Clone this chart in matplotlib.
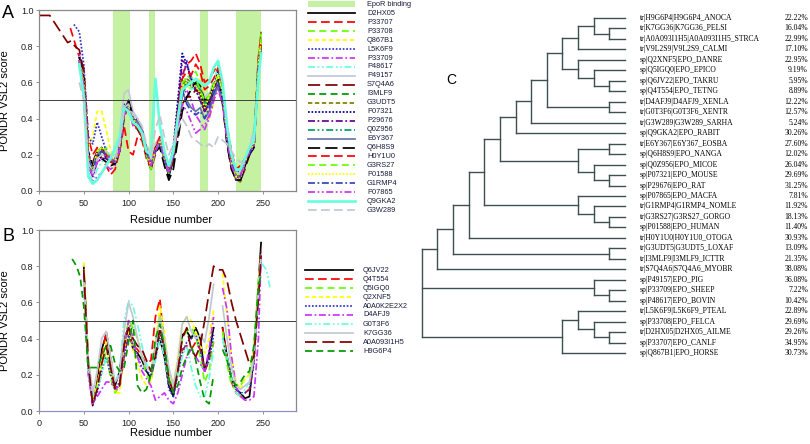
import numpy as np
import matplotlib.pyplot as plt
from matplotlib.lines import Line2D
from matplotlib.patches import Rectangle

plt.rcParams['font.family'] = ['Liberation Sans', 'DejaVu Sans']

# -----------------------------
# Disorder profiles (PONDR VSL2, values x100)
# -----------------------------
res_a = list(range(45, 246, 5)) + [248]
res_b = list(range(50, 246, 5)) + [248]

names_a = ['D2HX05', 'P33707', 'P33708', 'Q867B1', 'L5K6F9', 'P33709', 'P48617',
           'P49157', 'S7Q4A6', 'I3MLF9', 'G3UDT5', 'P07321', 'P29676', 'Q0Z956',
           'E6Y367', 'Q6H8S9', 'H0Y1U0', 'G3RS27', 'P01588', 'G1RMP4', 'P07865',
           'Q9GKA2', 'G3W289']

vsl2_a = [
    [72, 62, 20, 12, 22, 24, 18, 16, 15, 22, 42, 50, 40, 36, 34, 22, 14, 22, 28, 18,
     8, 18, 38, 55, 60, 58, 56, 54, 46, 50, 58, 62, 52, 32, 16, 8, 7, 15, 22, 26, 70, 82],
    [74, 68, 30, 20, 24, 18, 14, 9, 12, 22, 36, 22, 20, 30, 28, 18, 12, 20, 26, 20,
     12, 22, 45, 64, 70, 72, 76, 70, 60, 62, 66, 70, 58, 36, 22, 12, 14, 18, 22, 28, 74, 86],
    [70, 58, 18, 10, 20, 22, 24, 18, 16, 26, 44, 46, 36, 34, 30, 20, 13, 24, 27, 17,
     10, 22, 40, 58, 64, 62, 66, 60, 50, 54, 60, 64, 52, 30, 16, 10, 9, 16, 22, 26, 72, 88],
    [68, 56, 25, 30, 44, 44, 34, 22, 18, 28, 46, 44, 38, 36, 30, 20, 14, 22, 30, 22,
     12, 20, 38, 56, 58, 56, 60, 62, 52, 40, 48, 62, 50, 32, 18, 10, 8, 16, 20, 26, 68, 78],
    [88, 70, 30, 26, 38, 30, 22, 18, 18, 26, 48, 44, 40, 40, 32, 22, 14, 24, 26, 18,
     10, 20, 42, 62, 72, 60, 56, 50, 44, 48, 58, 64, 54, 30, 18, 10, 12, 18, 22, 24, 66, 80],
    [76, 60, 10, 5, 8, 10, 14, 12, 14, 22, 44, 46, 36, 34, 34, 24, 12, 22, 28, 20,
     14, 22, 40, 52, 56, 50, 42, 38, 34, 40, 50, 60, 50, 28, 14, 6, 6, 14, 20, 26, 68, 80],
    [70, 55, 10, 5, 12, 16, 18, 18, 20, 26, 44, 44, 40, 38, 30, 22, 14, 26, 28, 18,
     12, 22, 40, 56, 60, 56, 58, 56, 50, 52, 60, 70, 56, 34, 20, 12, 10, 18, 22, 24, 64, 78],
    [74, 62, 22, 10, 18, 20, 20, 18, 16, 30, 54, 56, 44, 40, 34, 24, 16, 26, 30, 22,
     14, 24, 42, 60, 62, 60, 58, 58, 52, 54, 58, 64, 56, 32, 18, 10, 10, 16, 24, 34, 60, 84],
    [78, 66, 20, 16, 22, 24, 20, 18, 16, 22, 40, 48, 40, 34, 30, 22, 14, 24, 28, 18,
     10, 16, 30, 48, 52, 52, 56, 54, 44, 48, 54, 58, 48, 26, 12, 7, 6, 12, 20, 24, 66, 80],
    [72, 58, 16, 12, 20, 22, 22, 18, 16, 24, 44, 48, 38, 36, 32, 20, 12, 22, 26, 18,
     10, 20, 38, 54, 58, 60, 62, 58, 48, 50, 58, 64, 54, 32, 16, 8, 8, 16, 20, 26, 70, 84],
    [70, 58, 18, 10, 20, 22, 20, 16, 16, 24, 42, 46, 38, 36, 32, 22, 14, 22, 26, 18,
     10, 22, 40, 58, 62, 60, 58, 56, 48, 52, 58, 62, 54, 30, 14, 6, 5, 14, 20, 26, 72, 88],
    [74, 60, 20, 14, 22, 24, 20, 18, 16, 24, 46, 48, 40, 36, 32, 22, 12, 22, 26, 18,
     10, 24, 50, 76, 70, 62, 58, 54, 46, 50, 58, 66, 54, 30, 16, 8, 8, 16, 20, 24, 68, 82],
    [72, 58, 14, 8, 16, 18, 18, 16, 16, 24, 44, 50, 42, 38, 34, 24, 14, 22, 28, 18,
     10, 22, 46, 72, 70, 62, 56, 50, 44, 48, 56, 62, 52, 28, 14, 6, 6, 14, 20, 24, 66, 80],
    [70, 56, 16, 10, 18, 22, 20, 18, 16, 24, 44, 48, 40, 36, 32, 22, 14, 22, 26, 18,
     10, 20, 40, 56, 60, 58, 60, 56, 48, 52, 58, 62, 52, 30, 16, 8, 8, 16, 22, 26, 70, 82],
    [72, 58, 18, 10, 20, 22, 20, 18, 16, 24, 44, 48, 40, 38, 34, 22, 14, 22, 28, 18,
     10, 22, 40, 54, 50, 46, 44, 46, 40, 44, 52, 58, 50, 28, 14, 8, 8, 16, 22, 26, 68, 80],
    [74, 62, 22, 14, 20, 18, 16, 14, 15, 22, 44, 50, 40, 34, 30, 20, 13, 22, 24, 14,
     6, 12, 28, 44, 52, 56, 60, 58, 50, 52, 58, 62, 50, 26, 12, 6, 6, 14, 20, 24, 68, 80],
    [72, 60, 20, 12, 20, 22, 20, 16, 16, 22, 44, 46, 38, 34, 30, 20, 12, 24, 30, 20,
     12, 22, 42, 62, 66, 64, 70, 66, 56, 58, 62, 68, 56, 32, 16, 8, 8, 16, 22, 26, 72, 84],
    [70, 58, 18, 12, 22, 24, 22, 18, 16, 24, 44, 46, 38, 36, 32, 20, 12, 22, 28, 18,
     10, 22, 40, 60, 62, 60, 62, 56, 50, 52, 58, 64, 54, 30, 16, 8, 8, 16, 22, 26, 70, 84],
    [72, 60, 18, 12, 22, 24, 22, 20, 16, 24, 44, 46, 40, 36, 32, 22, 14, 22, 28, 18,
     10, 22, 40, 58, 60, 58, 58, 54, 46, 52, 58, 64, 54, 30, 16, 8, 7, 16, 22, 26, 70, 82],
    [70, 58, 18, 12, 20, 22, 20, 18, 16, 24, 44, 46, 38, 36, 32, 22, 14, 22, 26, 18,
     10, 20, 38, 56, 48, 44, 42, 44, 40, 46, 54, 60, 52, 30, 16, 8, 8, 16, 22, 24, 68, 78],
    [72, 58, 14, 8, 16, 18, 20, 18, 16, 22, 42, 46, 38, 36, 32, 22, 14, 22, 28, 18,
     10, 20, 34, 48, 44, 38, 32, 34, 36, 42, 50, 56, 48, 28, 14, 8, 8, 16, 22, 24, 64, 76],
    [70, 52, 8, 4, 6, 10, 14, 18, 24, 30, 46, 44, 38, 36, 32, 22, 20, 62, 36, 22,
     14, 22, 40, 56, 58, 60, 62, 60, 58, 60, 68, 72, 60, 36, 20, 12, 12, 18, 24, 28, 62, 76],
    [60, 50, 16, 10, 18, 20, 22, 20, 18, 26, 46, 48, 42, 40, 36, 26, 20, 34, 42, 30,
     20, 26, 34, 40, 36, 30, 28, 26, 24, 26, 24, 30, 28, 26, 22, 18, 16, 15, 15, None, None, None],
]

# N-terminal parts that start before residue 45
lead_a = {8: ([0, 12, 20, 28, 32, 36, 40], [97, 97, 91, 85, 82, 83, 80]),
          1: ([35, 40], [90, 82]),
          4: ([39, 42], [92, 90])}

names_b = ['Q6JV22', 'Q4T554', 'Q5IGQ0', 'Q2XNF5', 'A0A0K2E2X2', 'D4AFJ9', 'G0T3F6',
           'K7GG36', 'A0A093I1H5', 'H9G6P4']

vsl2_b = [
    [80, 28, 3, 16, 34, 42, 24, 14, 22, 40, 46, 34, 32, 28, 22, 18, 30, 40, 30, 14,
     8, 22, 42, 44, 40, 46, 40, 22, 32, 46, None, 46, 30, 18, 12, 10, 7, 8, 30, 70, 93],
    [78, 26, 4, 14, 30, 44, 30, 12, 12, 30, 42, 36, 34, 30, 26, 28, 52, 62, 36, 16,
     12, 24, 34, 36, 34, 38, 34, 22, 28, 38, None, 46, 30, 16, 10, 8, 10, 12, 28, 66, 88],
    [76, 24, 6, 14, 26, 32, 18, 10, 14, 36, 50, 46, 40, 30, 20, 16, 36, 54, 40, 22,
     14, 26, 40, 44, 46, 42, 30, 16, 22, 40, None, 44, 26, 14, 12, 14, 18, 20, 34, 70, 84],
    [82, 30, 6, 14, 28, 38, 22, 10, 10, 34, 44, 34, 26, 18, 14, 16, 38, 58, 44, 22,
     14, 30, 48, 52, 50, 44, 36, 32, 40, 56, None, 76, 52, 30, 16, 12, 18, 20, 34, 72, 86],
    [72, 22, 4, 10, 22, 30, 20, 12, 16, 30, 42, 36, 30, 24, 22, 20, 28, 44, 34, 12,
     8, 20, 32, 38, 40, 42, 34, 22, 28, 42, None, 40, 30, 18, 12, 10, 10, 12, 26, 64, 84],
    [76, 20, 4, 8, 12, 16, 16, 12, 14, 34, 50, 40, 30, 22, 18, 14, 6, 8, 10, 6,
     4, 10, 20, 30, 34, 30, 26, 22, 34, 52, None, 68, 56, 30, 14, 8, 6, 6, 8, 40, 85],
    [70, 22, 8, 12, 20, 30, 24, 16, 22, 50, 61, 58, 48, 36, 26, 22, 28, 40, 30, 16,
     12, 20, 30, 36, 24, 14, 8, 8, 18, 34, None, 40, 30, 18, 10, 8, 12, 16, 30, 70, 82],
    [72, 30, 10, 22, 40, 44, 30, 16, 20, 44, 60, 52, 40, 30, 24, 22, 36, 52, 40, 24,
     14, 28, 48, 52, 44, 40, 42, 38, 52, 70, None, 58, 40, 24, 14, 12, 14, 16, 30, 66, 86],
    [78, 26, 4, 12, 26, 36, 24, 12, 14, 36, 46, 40, 36, 34, 28, 22, 30, 46, 34, 18,
     10, 22, 40, 46, 34, 30, 36, 50, 66, 80, 78, 78, 72, 60, 50, 42, 34, 26, 30, 62, 86],
    [58, 24, 24, 24, 30, 36, 36, 26, 22, 24, 38, 50, 14, 10, 12, 20, 40, 48, 36, 18,
     10, 14, 24, 30, 36, 28, 16, 6, 4, 20, None, 34, 28, 18, 14, 16, 20, 22, 36, 68, 76],
]
lead_b = {9: ([37, 42, 46], [84, 80, 74])}
tail_b = {6: ([254, 258], [78, 68])}

# EpoR binding regions (residues)
epor_start = [83, 123, 180, 220]
epor_end = [102, 130, 189, 248]

# -----------------------------
# Line styles (Excel-like)
# -----------------------------
SOLID = '-'
DASH = (0, (5, 2.5))
MDASH = (0, (4, 2.5))
SDASH = (0, (2.5, 1.5))
DOT = (0, (1, 1))
DASHDOT = (0, (4, 1.5, 1, 1.5))
DASHDOTDOT = (0, (4, 1.5, 1, 1.5, 1, 1.5))
LDASH = (0, (7, 3))

colors_a = ['#000000', '#ff0000', '#66ff00', '#ffff00', '#3333cc', '#cc33ff', '#66ffdd',
            '#c0c8dc', '#800000', '#009900', '#808000', '#000099', '#660099', '#00a060',
            '#6677aa', '#000000', '#ff0000', '#66ff00', '#ffff00', '#3344bb', '#cc33ee',
            '#66ffdd', '#c0c8d0']
styles_a = [SOLID, DASH, MDASH, SDASH, DOT, DASHDOT, DASHDOTDOT,
            SOLID, LDASH, MDASH, SDASH, DOT, DASHDOT, DASHDOTDOT,
            SOLID, LDASH, DASH, MDASH, DOT, DASHDOT, DASHDOTDOT,
            SOLID, DASH]
widths_a = [1.25] * 21 + [1.9, 1.25]

colors_b = ['#000000', '#ff0000', '#66ff00', '#ffff00', '#3333cc', '#cc33ff', '#66ffdd',
            '#c0c8d0', '#800000', '#009900']
styles_b = [SOLID, DASH, MDASH, SDASH, DOT, DASHDOT, DASHDOTDOT, SOLID, LDASH, MDASH]

# -----------------------------
# Tree (node depth levels, leaves = row index)
# -----------------------------
leaf_labels = ['tr|H9G6P4|H9G6P4_ANOCA', 'tr|K7GG36|K7GG36_PELSI',
               'tr|A0A093I1H5|A0A093I1H5_STRCA', 'tr|V9L2S9|V9L2S9_CALMI',
               'sp|Q2XNF5|EPO_DANRE', 'sp|Q5IGQ0|EPO_EPICO', 'sp|Q6JV22|EPO_TAKRU',
               'sp|Q4T554|EPO_TETNG', 'tr|D4AFJ9|D4AFJ9_XENLA', 'tr|G0T3F6|G0T3F6_XENTR',
               'tr|G3W289|G3W289_SARHA', 'sp|Q9GKA2|EPO_RABIT', 'tr|E6Y367|E6Y367_EOSBA',
               'sp|Q6H8S9|EPO_NANGA', 'sp|Q0Z956|EPO_MICOE', 'sp|P07321|EPO_MOUSE',
               'sp|P29676|EPO_RAT', 'sp|P07865|EPO_MACFA', 'tr|G1RMP4|G1RMP4_NOMLE',
               'tr|G3RS27|G3RS27_GORGO', 'sp|P01588|EPO_HUMAN', 'tr|H0Y1U0|H0Y1U0_OTOGA',
               'tr|G3UDT5|G3UDT5_LOXAF', 'tr|I3MLF9|I3MLF9_ICTTR', 'tr|S7Q4A6|S7Q4A6_MYOBR',
               'sp|P49157|EPO_PIG', 'sp|P33709|EPO_SHEEP', 'sp|P48617|EPO_BOVIN',
               'tr|L5K6F9|L5K6F9_PTEAL', 'sp|P33708|EPO_FELCA', 'tr|D2HX05|D2HX05_AILME',
               'sp|P33707|EPO_CANLF', 'sp|Q867B1|EPO_HORSE']
leaf_pct = ['22.22%', '16.04%', '22.99%', '17.10%', '22.95%', '9.19%', '5.95%', '8.89%',
            '12.22%', '12.57%', '5.24%', '30.26%', '27.60%', '12.02%', '26.04%', '29.69%',
            '31.25%', '7.81%', '11.92%', '18.13%', '11.40%', '30.93%', '13.09%', '21.35%',
            '38.08%', '36.08%', '7.22%', '10.42%', '22.89%', '29.69%', '29.26%', '34.95%',
            '30.73%']
LEAF_DEPTH = 13

fish_birds = (9, [(10, [(11, [0, (12, [1, 2])]), 3]),
                  (10, [4, (11, [5, (12, [6, 7])])])])
nonmammal = (7, [(8, [fish_birds, (12, [8, 9])]), 10])
rodents = (10, [(12, [12, 13]), (11, [14, (12, [15, 16])])])
primates = (10, [17, (11, [18, (12, [19, 20])])])
clade_d = (4, [(5, [(6, [nonmammal, 11]), rodents]), primates])
clade_a = (1, [(2, [(3, [clade_d, 21]), (12, [22, 23])]), 24])
ruminants = (11, [25, (12, [26, 27])])
carnivores = (9, [(10, [28, (11, [29, (12, [30, 31])])]), 32])
tree = (0, [clade_a, ruminants, carnivores])

# -----------------------------
# Figure
# -----------------------------
W, H = 810, 444
fig = plt.figure(figsize=(W / 100, H / 100), dpi=100)


def fx(px):
    return px / W


def fy(py):
    return 1 - py / H


def profile(vals, res, lead, tail, i):
    x = list(res)
    y = list(vals[i])
    if i in lead:
        x = lead[i][0] + x
        y = lead[i][1] + y
    if i in tail:
        x = x + tail[i][0]
        y = y + tail[i][1]
    return np.array(x, dtype=float), np.array(y, dtype=float) / 100


def setup_axes(ax):
    ax.set_xlim(0, 287)
    ax.set_ylim(0, 1)
    ax.set_xticks([0, 50, 100, 150, 200, 250])
    ax.set_yticks([0.0, 0.2, 0.4, 0.6, 0.8, 1.0])
    ax.set_yticklabels(['0.0', '0.2', '0.4', '0.6', '0.8', '1.0'])
    ax.tick_params(labelsize=6.5, length=2, width=0.6, color='#808080',
                   labelcolor='#202020', pad=2)
    ax.tick_params(axis='x', pad=4)
    for s in ax.spines.values():
        s.set_color('#8a8a8a')
        s.set_linewidth(0.9)
    ax.axhline(0.5, color='#404040', lw=0.7, zorder=5)
    ax.set_ylabel('PONDR VSL2 score', fontsize=8)
    ax.yaxis.set_label_coords(-0.113, 0.5)
    ax.set_xlabel('Residue number', fontsize=8)


# --- Panel A ---
ax_a = fig.add_axes([fx(39), fy(191), fx(296) - fx(39), fy(10) - fy(191)])
for s, e in zip(epor_start, epor_end):
    ax_a.axvspan(s, e, color='#c4f2a2', lw=0, zorder=0)
for i in range(len(names_a)):
    x, y = profile(vsl2_a, res_a, lead_a, {}, i)
    ax_a.plot(x, y, color=colors_a[i], ls=styles_a[i], lw=widths_a[i], zorder=2)
setup_axes(ax_a)
ax_a.xaxis.set_label_coords(0.515, -0.13)
fig.text(fx(2), fy(13), 'A', fontsize=13, va='center', ha='left')

# --- Panel B ---
ax_b = fig.add_axes([fx(39), fy(411), fx(296) - fx(39), fy(230) - fy(411)])
for i in range(len(names_b)):
    x, y = profile(vsl2_b, res_b, lead_b, tail_b, i)
    ax_b.plot(x, y, color=colors_b[i], ls=styles_b[i], lw=1.25, zorder=2)
setup_axes(ax_b)
ax_b.spines['bottom'].set_color('#9090c8')
ax_b.xaxis.set_label_coords(0.515, -0.095)
fig.text(fx(2), fy(236), 'B', fontsize=13, va='center', ha='left')

# --- Legends (drawn by hand to match the reference layout) ---
txt_col = '#1c1c40'
fig.add_artist(Rectangle((fx(308), fy(7)), fx(355) - fx(308), fy(1) - fy(7),
                         transform=fig.transFigure, color='#c4f2a2', lw=0))
fig.text(fx(367), fy(4), 'EpoR binding', fontsize=5.3, va='center', color=txt_col)
for i, name in enumerate(names_a):
    yy = 13.3 + 8.95 * i
    fig.add_artist(Line2D([fx(308), fx(355)], [fy(yy), fy(yy)], transform=fig.transFigure,
                          color=colors_a[i], ls=styles_a[i], lw=widths_a[i]))
    fig.text(fx(367), fy(yy), name, fontsize=5.3, va='center', color=txt_col)

for i, name in enumerate(names_b):
    yy = 270 + 9 * i
    fig.add_artist(Line2D([fx(305), fx(353)], [fy(yy), fy(yy)], transform=fig.transFigure,
                          color=colors_b[i], ls=styles_b[i], lw=1.25))
    fig.text(fx(363), fy(yy), name, fontsize=5.3, va='center', color=txt_col)

# --- Panel C: tree ---
ax_c = fig.add_axes([fx(400), 0, fx(810) - fx(400), 1])
ax_c.set_xlim((400 - 421.7) / 15.64, (810 - 421.7) / 15.64)
ax_c.set_ylim((444 - 18) / 10.47, -18 / 10.47)
ax_c.axis('off')
tree_col = '#3e4f50'


def draw(node):
    if isinstance(node, int):
        return LEAF_DEPTH, node
    d, kids = node
    ys = []
    for k in kids:
        kd, ky = draw(k)
        ax_c.plot([d, kd], [ky, ky], color=tree_col, lw=1.0, solid_capstyle='projecting')
        ys.append(ky)
    ax_c.plot([d, d], [min(ys), max(ys)], color=tree_col, lw=1.0, solid_capstyle='projecting')
    return d, (ys[0] + ys[-1]) / 2


draw(tree)
for i, (lab, pct) in enumerate(zip(leaf_labels, leaf_pct)):
    ax_c.text((640 - 421.7) / 15.64, i, lab, ha='left', va='center', fontsize=5.5,
              family='Liberation Serif')
    ax_c.text((808 - 421.7) / 15.64, i, pct, ha='right', va='center', fontsize=5.5,
              family='Liberation Serif')
fig.text(fx(451), fy(80), 'C', fontsize=10, ha='center', va='center')

fig.savefig('out.png', dpi=100)
